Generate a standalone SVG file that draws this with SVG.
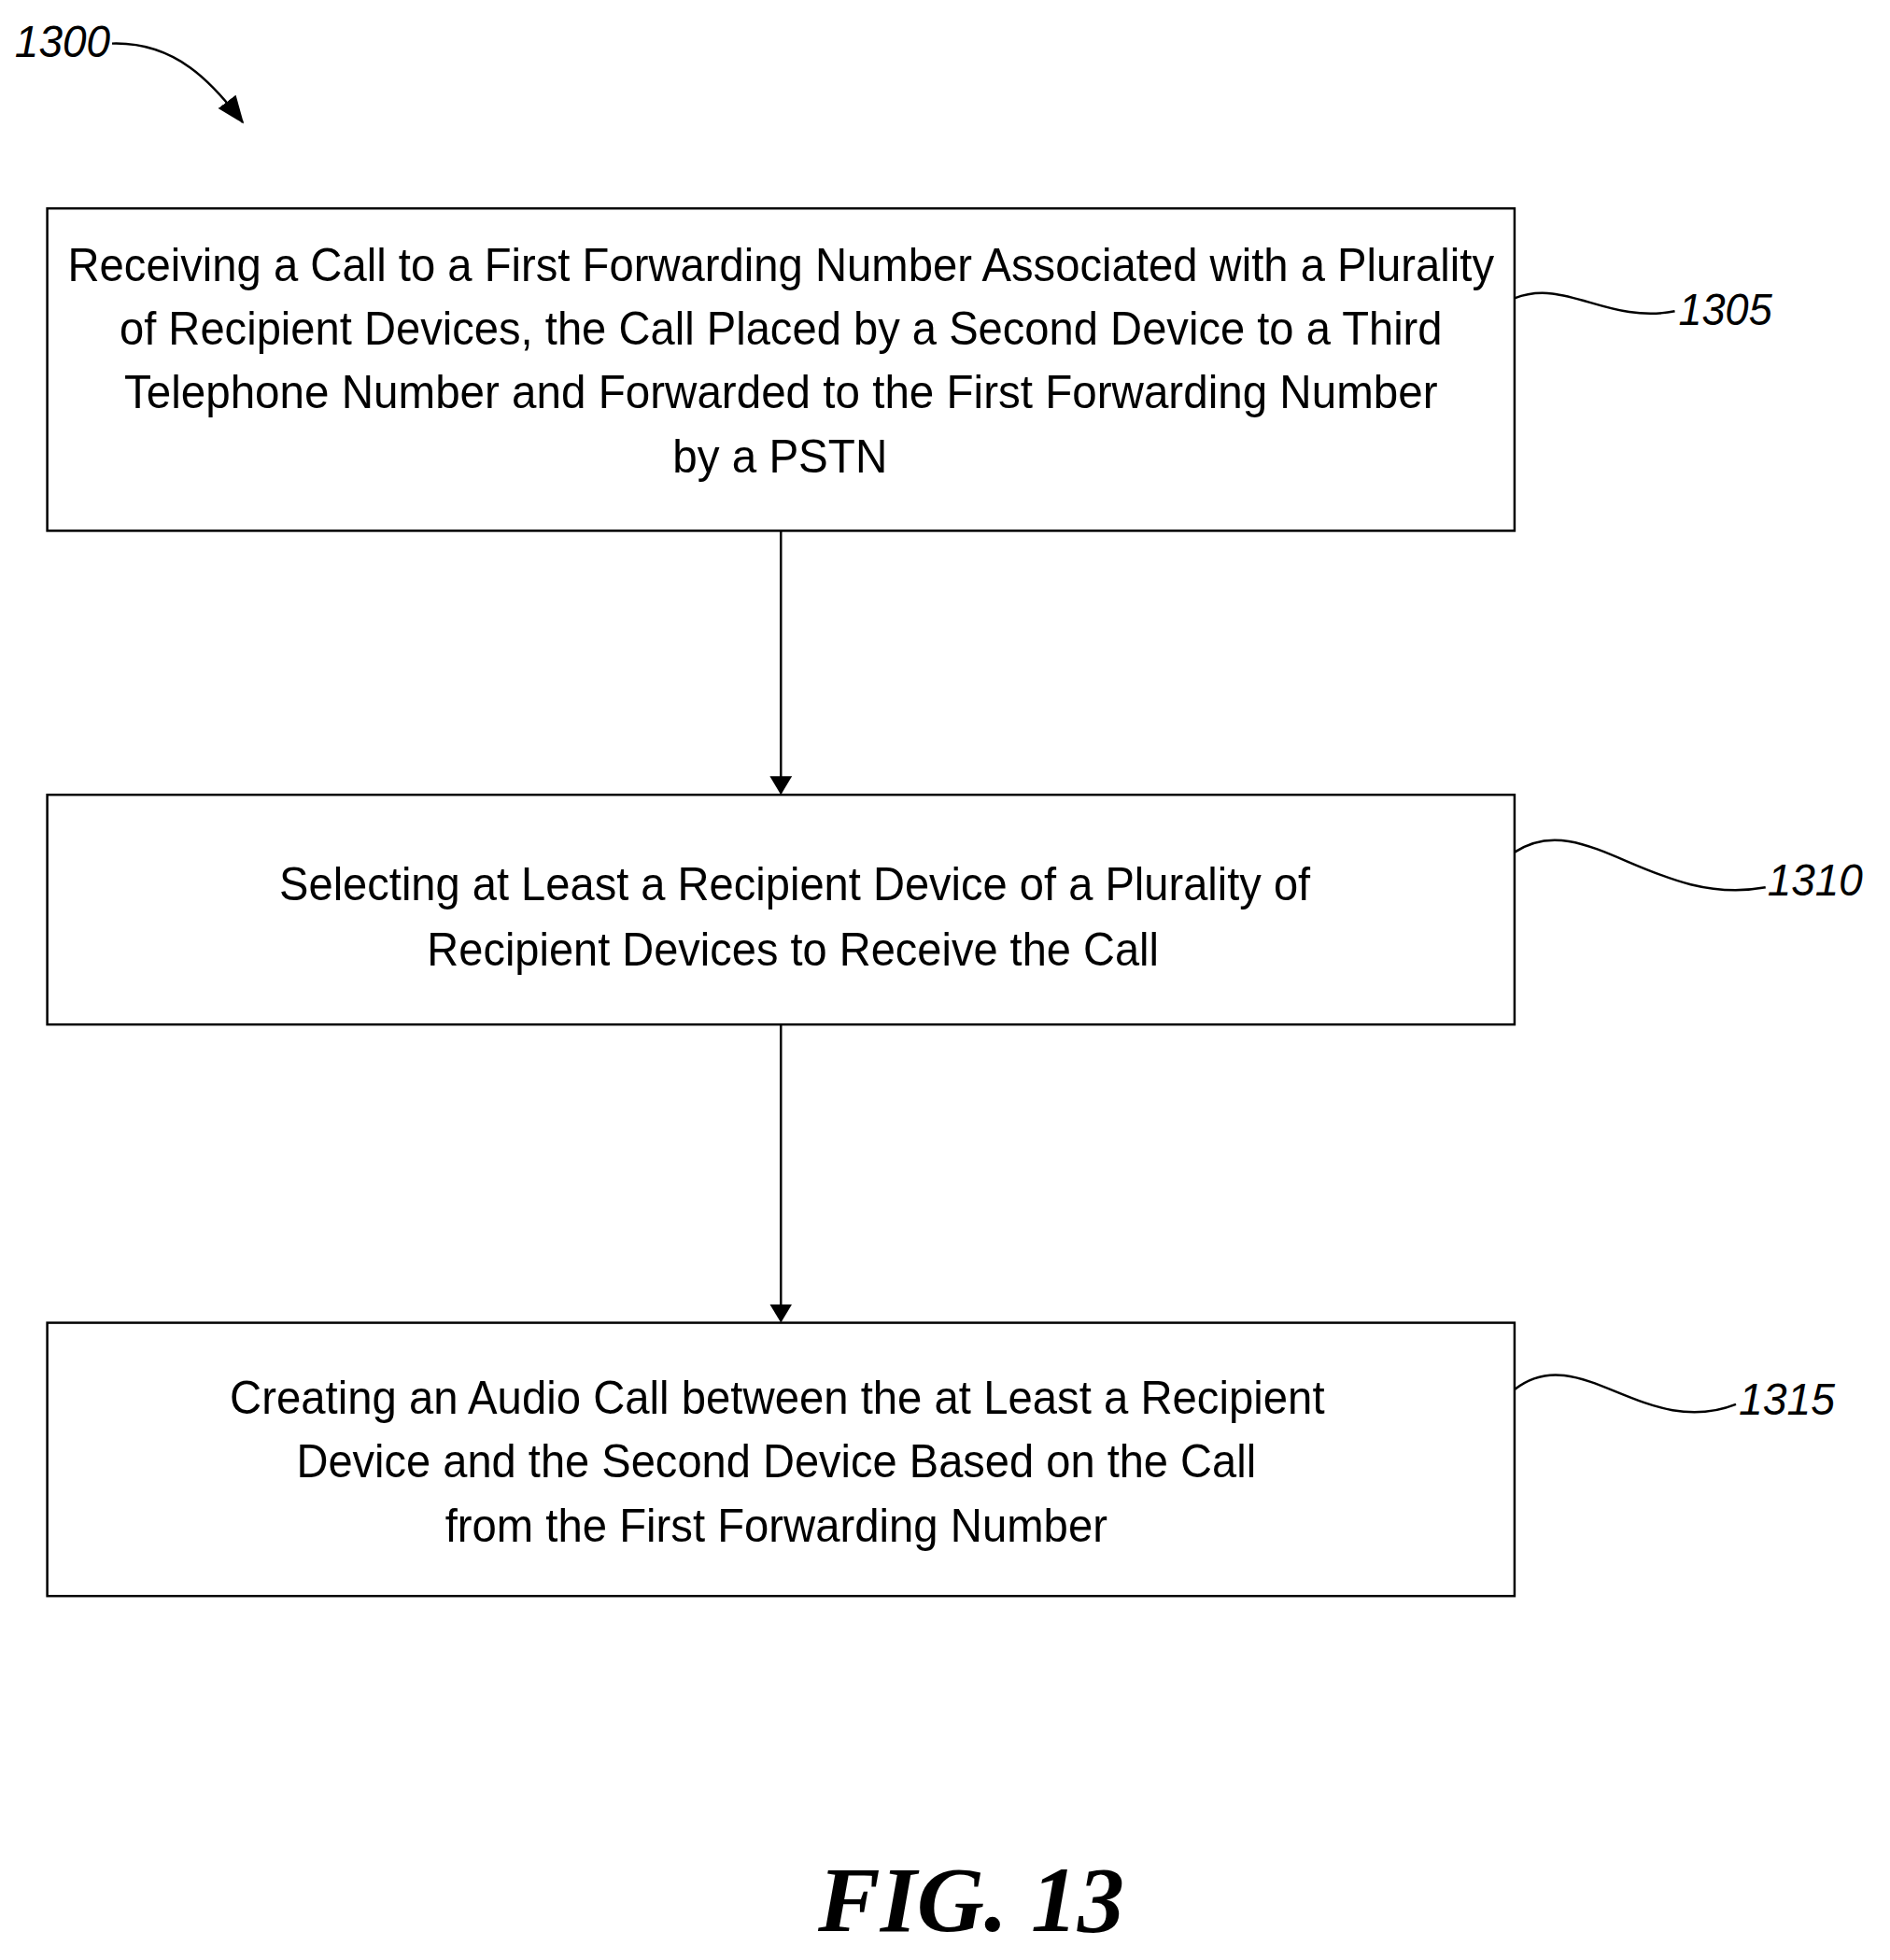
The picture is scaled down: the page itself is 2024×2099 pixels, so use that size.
<svg xmlns="http://www.w3.org/2000/svg" width="2024" height="2099" viewBox="0 0 2024 2099">
<style>
.box{fill:#fff;stroke:#000;stroke-width:2.5}
.t{font-family:"Liberation Sans",Arial,sans-serif;font-size:50px;fill:#000}
.r{font-family:"Liberation Sans",Arial,sans-serif;font-size:48px;font-style:italic;fill:#000}
.c{fill:none;stroke:#000;stroke-width:2.5}
</style>
<defs><marker id="ah" markerWidth="20" markerHeight="24" refX="18" refY="12" orient="auto" markerUnits="userSpaceOnUse"><path d="M0,0 L20,12 L0,24 Z"/></marker>
<marker id="ah2" markerWidth="30" markerHeight="30" refX="28" refY="15" orient="auto" markerUnits="userSpaceOnUse"><path d="M0,3 L30,15 L0,27 Z"/></marker></defs>
<rect width="2024" height="2099" fill="#fff"/>
<g transform="scale(0.992)">
<g id="n1305"><rect class="box" x="51" y="225" width="1584" height="348"/>
<text class="t" x="843" y="303" text-anchor="middle" textLength="1540" lengthAdjust="spacingAndGlyphs">Receiving a Call to a First Forwarding Number Associated with a Plurality</text>
<text class="t" x="843" y="372" text-anchor="middle" textLength="1428" lengthAdjust="spacingAndGlyphs">of Recipient Devices, the Call Placed by a Second Device to a Third</text>
<text class="t" x="843" y="441" text-anchor="middle" textLength="1418" lengthAdjust="spacingAndGlyphs">Telephone Number and Forwarded to the First Forwarding Number</text>
<text class="t" x="842" y="510" text-anchor="middle" textLength="232" lengthAdjust="spacingAndGlyphs">by a PSTN</text></g>
<g id="n1310"><rect class="box" x="51" y="858" width="1584" height="248"/>
<text class="t" x="858" y="972" text-anchor="middle" textLength="1113" lengthAdjust="spacingAndGlyphs">Selecting at Least a Recipient Device of a Plurality of</text>
<text class="t" x="856" y="1042" text-anchor="middle" textLength="790" lengthAdjust="spacingAndGlyphs">Recipient Devices to Receive the Call</text></g>
<g id="n1315"><rect class="box" x="51" y="1428" width="1584" height="295"/>
<text class="t" x="839" y="1526" text-anchor="middle" textLength="1182" lengthAdjust="spacingAndGlyphs">Creating an Audio Call between the at Least a Recipient</text>
<text class="t" x="838" y="1595" text-anchor="middle" textLength="1036" lengthAdjust="spacingAndGlyphs">Device and the Second Device Based on the Call</text>
<text class="t" x="838" y="1664" text-anchor="middle" textLength="715" lengthAdjust="spacingAndGlyphs">from the First Forwarding Number</text></g>
<g id="connectors">
<line class="c" x1="843" y1="573" x2="843" y2="856" marker-end="url(#ah)"/>
<line class="c" x1="843" y1="1106" x2="843" y2="1426" marker-end="url(#ah)"/>
<path class="c" d="M1635,322 C1690,300 1735,350 1808,336"/>
<path class="c" d="M1635,920 C1710,870 1785,980 1906,958"/>
<path class="c" d="M1635,1500 C1705,1445 1775,1555 1874,1516"/>
<path class="c" stroke-width="2" d="M121,47 C190,45 230,90 262,132" marker-end="url(#ah2)"/>
</g>
<text class="r" x="1812" y="351" textLength="101" lengthAdjust="spacingAndGlyphs">1305</text>
<text class="r" x="1908" y="967" textLength="103" lengthAdjust="spacingAndGlyphs">1310</text>
<text class="r" x="1877" y="1527" textLength="104" lengthAdjust="spacingAndGlyphs">1315</text>
<text class="r" x="16" y="61" textLength="103" lengthAdjust="spacingAndGlyphs">1300</text>
</g>
<text x="1040" y="2068" text-anchor="middle" font-family="Liberation Serif,serif" font-weight="bold" font-style="italic" font-size="100">FIG. 13</text>
</svg>
